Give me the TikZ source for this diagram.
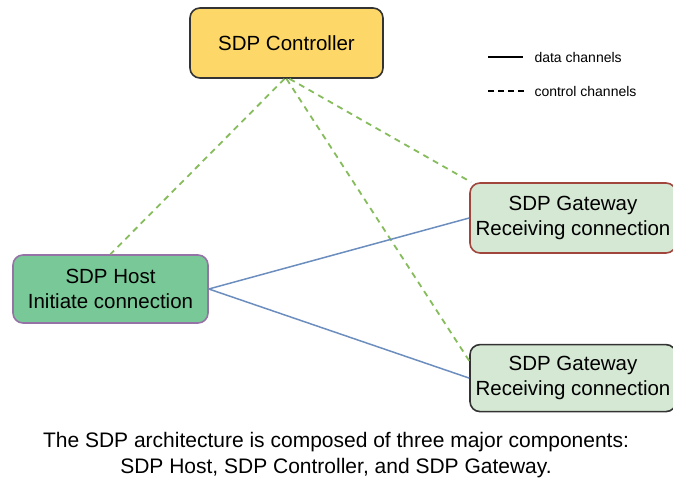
\documentclass[tikz,border=0pt]{standalone}
\usepackage{fontspec}
\setmainfont{Liberation Sans}
\usetikzlibrary{positioning}
\definecolor{ctrlfill}{HTML}{FDD868}
\definecolor{hostfill}{HTML}{78C997}
\definecolor{hostline}{HTML}{9673A6}
\definecolor{gwfill}{HTML}{D5E8D4}
\definecolor{gwline}{HTML}{A0463C}
\definecolor{ctlgreen}{HTML}{86BC5C}
\definecolor{datablue}{HTML}{6C8EBF}
\tikzset{
  sdp/.style={
	x=1pt, y=1pt,
	every node/.style={font=\fontsize{20.5}{25}\selectfont, align=center},
	box/.style={draw=black!80, line width=1.6pt, rounded corners=10pt, inner sep=0pt}, % all boxes
	control/.style={ctlgreen, line width=1.8pt, dash pattern=on 6pt off 5pt}, % dashed links
	data/.style={datablue, line width=1.5pt}, % solid links
	legend/.style={font=\fontsize{14}{16}\selectfont, anchor=west},
  }
}
\begin{document}
\begin{tikzpicture}[sdp]
\useasboundingbox (0,0) rectangle (673,-481);
\node[box, fill=ctrlfill, minimum width=193, minimum height=70] (ctrl) at (286.5,-43) {SDP Controller};
\node[box, fill=hostfill, draw=hostline, minimum width=195, minimum height=68] (host) at (110.5,-289) {SDP Host\\Initiate connection};
\node[box, fill=gwfill, draw=gwline, minimum width=206, minimum height=70] (gw1) at (573,-218) {SDP Gateway\\Receiving connection};
\node[box, fill=gwfill, minimum width=206, minimum height=67, below=90 of gw1] (gw2) {SDP Gateway\\Receiving connection};

% legend
\node[legend] (datatxt) at (531,-57) {data channels};
\node[legend] (ctltxt) at (531,-91) {control channels};
\draw[line width=1.6pt] ([xshift=-8]datatxt.west) -- ++(-35,0);
\draw[line width=1.6pt, dash pattern=on 6pt off 4pt] ([xshift=-7]ctltxt.west) -- ++(-37,0);

% control channels
\draw[control] ([xshift=-2]ctrl.south) -- (host.north);
\draw[control] ([xshift=3]ctrl.south) -- ([xshift=2]gw1.north west);
\draw[control] (ctrl.south) -- ([yshift=-17]gw2.north west);

% data channels
\draw[data] (host.east) -- (gw1.west);
\draw[data] (host.east) -- (gw2.west);

\node[font=\fontsize{21}{26}\selectfont] (caption) at (336,-455) {The SDP architecture is composed of three major components:\\SDP Host, SDP Controller, and SDP Gateway.};
\end{tikzpicture}
\end{document}
